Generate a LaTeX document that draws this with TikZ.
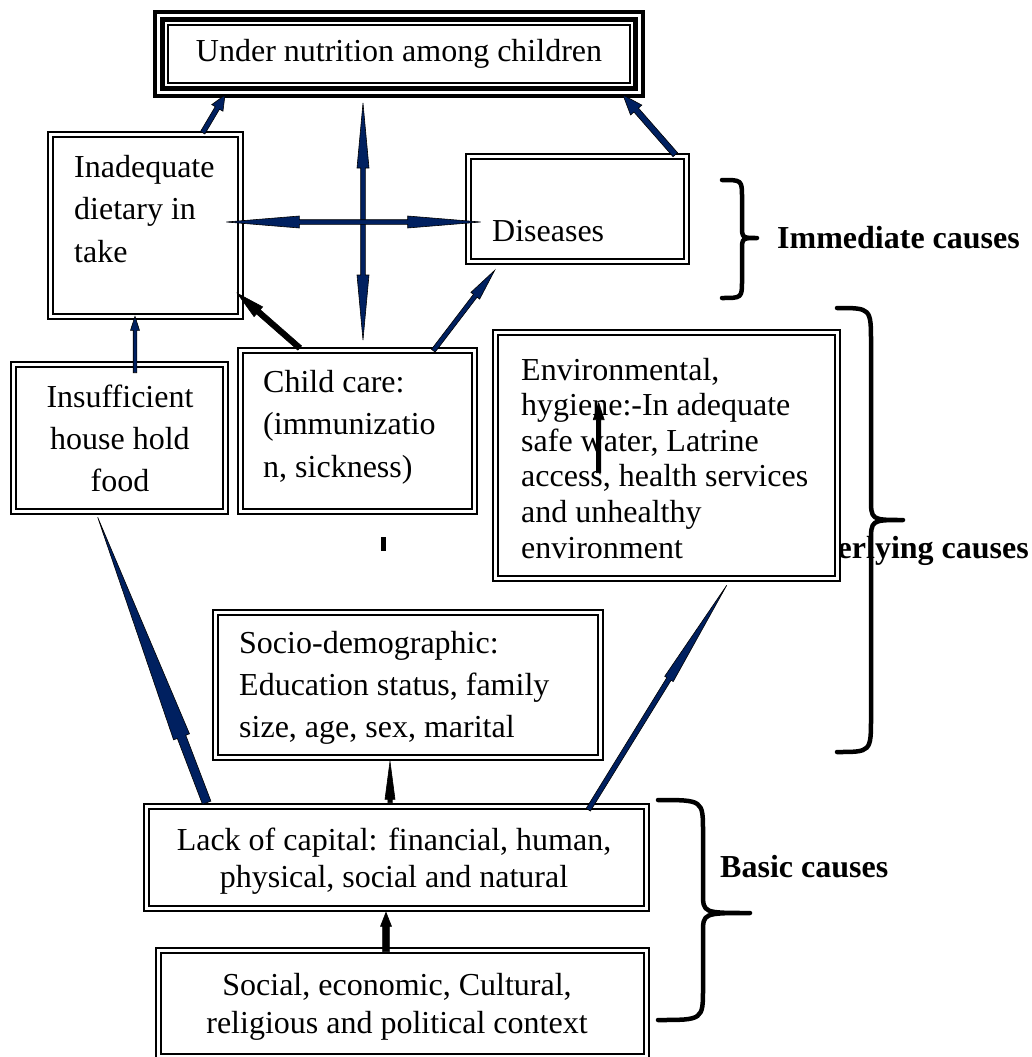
\documentclass[tikz,border=0pt]{standalone}
\usepackage{fontspec}
\setmainfont{Liberation Serif}
\usepackage{xcolor}
\usetikzlibrary{calc}
\definecolor{darknavy}{HTML}{002060}
\tikzset{box/.style={draw, double, line width=2.4pt, double distance=2.6pt, fill=white, inner sep=0pt, outer sep=0pt}}
\tikzset{txt/.style={inner sep=0pt, font=\fontsize{32pt}{#1}\selectfont}, txt/.default=42pt}
\tikzset{tag/.style={inner sep=0pt, font=\fontsize{32pt}{38pt}\selectfont\bfseries}}
\tikzset{curly/.style={line width=4.5pt, line cap=round, line join=round}}

\newcommand{\linesL}[1]{\begin{tabular}[t]{@{}l@{}}#1\end{tabular}}
\newcommand{\linesC}[1]{\begin{tabular}[t]{@{}c@{}}#1\end{tabular}}

% block arrow: fill, start, tip, half shaft, half head, head length
\newcommand{\blockarr}[6]{%
	\path (#2) coordinate (s) (#3) coordinate (t) ($(t)!#6!(s)$) coordinate (h);
	\filldraw[fill=#1, draw=black, line width=0.6pt] ($(s)!#4!90:(t)$) -- ($(h)!#4!90:(t)$) -- ($(h)!#5!90:(t)$) -- (t) -- ($(h)!#5!-90:(t)$) -- ($(h)!#4!-90:(t)$) -- ($(s)!#4!-90:(t)$) -- cycle;
}
% two headed block arrow: end, end, half shaft, half head, head length
\newcommand{\dblarr}[5]{%
	\path (#1) coordinate (p) (#2) coordinate (q) ($(p)!#5!(q)$) coordinate (hp) ($(q)!#5!(p)$) coordinate (hq);
	\filldraw[fill=darknavy, draw=black, line width=0.6pt] (p) -- ($(hp)!#4!90:(q)$) -- ($(hp)!#3!90:(q)$) -- ($(hq)!#3!-90:(p)$) -- ($(hq)!#4!-90:(p)$) -- (q) -- ($(hq)!#4!90:(p)$) -- ($(hq)!#3!90:(p)$) -- ($(hp)!#3!-90:(q)$) -- ($(hp)!#4!-90:(q)$) -- cycle;
}
% x end, x stem, x tip, y top, y tip, y bottom, end bend, tip bend
\newcommand{\curlybrace}[8]{%
	\draw[curly] (#1,#4) .. controls (#2,#4) .. (#2,#4+#7) -- (#2,#5-#8) .. controls (#2,#5) .. (#3,#5) .. controls (#2,#5) .. (#2,#5+#8) -- (#2,#6-#7) .. controls (#2,#6) .. (#1,#6);
}

\begin{document}
\begin{tikzpicture}[x=1pt, y=-1pt]
	\useasboundingbox (0,0) rectangle (1031,1057);
	\node[tag, anchor=base east] (under) at (1029,558) {Underlying causes};
	
	\node[draw, line width=4pt, fill=white, inner sep=0pt, outer sep=0pt, minimum width=488pt, minimum height=84pt, font=\fontsize{32pt}{38pt}\selectfont] (nut) at (399,54) {Under nutrition among children};
	\draw[line width=4.5pt] ($(nut.north west)+(7.5,7.5)$) rectangle ($(nut.south east)+(-7.5,-7.5)$);
	\draw[line width=1.7pt] ($(nut.north west)+(13,13)$) rectangle ($(nut.south east)+(-13,-13)$);
	
	\node[box, minimum width=189.6pt, minimum height=181.6pt] (diet) at (145.5,225.5) {};
	\node[box, minimum width=217.6pt, minimum height=104.6pt] (dis) at (577.5,209) {};
	\node[box, minimum width=211.6pt, minimum height=146.6pt] (food) at (119.5,438) {};
	\node[box, minimum width=233.6pt, minimum height=160.6pt] (care) at (357.5,431) {};
	\node[box, minimum width=341.6pt, minimum height=245.6pt] (env) at (666.5,455.5) {};
	\node[box, minimum width=384.6pt, minimum height=144.6pt] (socio) at (408,685) {};
	\node[box, minimum width=499.6pt, minimum height=101.6pt] (cap) at (396.5,857.5) {};
	\node[box, minimum width=487.6pt, minimum height=105.6pt] (ctx) at (402.5,1003.5) {};
	
	\node[txt=42.5pt, anchor=base west] (dietT) at (74,177) {\linesL{Inadequate\\dietary in\\take}};
	\node[txt, anchor=base west] (disT) at (492,241) {Diseases};
	\node[txt, anchor=base] (foodT) at (120,407) {\linesC{Insufficient\\house hold\\food}};
	\node[txt=42.5pt, anchor=base west] (careT) at (263,392) {\linesL{Child care:\\(immunizatio\\n, sickness)}};
	\node[txt=35.6pt, anchor=base west] (envT) at (521,380) {\linesL{Environmental,\\hygiene:-In adequate\\safe water, Latrine\\access, health services\\and unhealthy\\environment}};
	\node[txt, anchor=base west] (socioT) at (239,653) {\linesL{Socio-demographic:\\Education status, family\\size, age, sex, marital}};
	\node[txt=37pt, anchor=base] (capT) at (394,850) {\linesC{Lack of capital: financial, human,\\physical, social and natural}};
	\node[txt=38pt, anchor=base] (ctxT) at (397,995) {\linesC{Social, economic, Cultural,\\religious and political context}};
	
	\node[tag, anchor=base west] (imm) at (777,248) {Immediate causes};
	\node[tag, anchor=base west] (basic) at (720,877) {Basic causes};
	
	% arrow ends on the boxes
	\coordinate (dietUp) at ($(diet.north west)+(152,-2)$);
	\coordinate (nutL) at ($(nut.south west)+(70,-1)$);
	\coordinate (disUp) at ($(dis.north east)+(-11,-2)$);
	\coordinate (nutR) at ($(nut.south east)+(-20,-1)$);
	\coordinate (vtop) at ($(nut.south)+(-36,7)$);
	\coordinate (vbot) at ($(care.north)+(5.5,-10.7)$);
	\coordinate (hl) at ($(diet.east)+(-14,-3.5)$);
	\coordinate (hr) at ($(dis.west)+(12,13)$);
	\coordinate (careR) at ($(care.north east)+(-41,0)$);
	\coordinate (disLow) at ($(dis.south west)+(26,9)$);
	\coordinate (careL) at ($(care.north west)+(59,-2.7)$);
	\coordinate (dietLow) at ($(diet.south east)+(-3,-23)$);
	\coordinate (foodUp) at ($(food.north)+(15.5,8)$);
	\coordinate (dietDown) at ($(diet.south)+(-10.5,0)$);
	\coordinate (capL) at ($(cap.north west)+(60,-4)$);
	\coordinate (foodDown) at ($(food.south west)+(84,6)$);
	\coordinate (capR) at ($(cap.north east)+(-58,3)$);
	\coordinate (envDown) at ($(env.south west)+(231,7)$);
	\coordinate (capUp) at ($(cap.north)+(-6.5,-4)$);
	\coordinate (socioDown) at ($(socio.south)+(-18,4)$);
	\coordinate (ctxUp) at ($(ctx.north)+(-16.5,1)$);
	\coordinate (capDown) at ($(cap.south)+(-10.5,4)$);
	\coordinate (envA) at ($(env.north west)+(103,140)$);
	\coordinate (envB) at ($(env.north west)+(103,70)$);
	
	\blockarr{darknavy}{dietUp}{nutL}{2.5pt}{6.5pt}{15pt}
	\blockarr{darknavy}{disUp}{nutR}{3pt}{7.5pt}{20pt}
	\dblarr{vtop}{vbot}{2.3pt}{6pt}{65pt}
	\dblarr{hl}{hr}{2.3pt}{6pt}{73pt}
	\blockarr{darknavy}{careR}{disLow}{2.3pt}{5.5pt}{32pt}
	\blockarr{black}{careL}{dietLow}{2.8pt}{6.5pt}{28pt}
	\blockarr{darknavy}{foodUp}{dietDown}{1.8pt}{4.5pt}{14pt}
	\blockarr{darknavy}{capL}{foodDown}{4.5pt}{8.5pt}{235pt}
	\blockarr{darknavy}{capR}{envDown}{2.5pt}{5pt}{110pt}
	\blockarr{black}{capUp}{socioDown}{2.2pt}{5pt}{38pt}
	\blockarr{black}{ctxUp}{capDown}{3.3pt}{5.5pt}{14pt}
	\blockarr{black}{envA}{envB}{2.2pt}{5.5pt}{17pt}
	\fill (381,537) rectangle (386,551);
	
	\curlybrace{722}{742}{757}{180}{238}{298}{18}{13}
	\curlybrace{837}{871}{903}{308}{520}{752}{35}{22}
	\curlybrace{658}{703}{750}{800}{913}{1020}{32}{20}
\end{tikzpicture}
\end{document}
